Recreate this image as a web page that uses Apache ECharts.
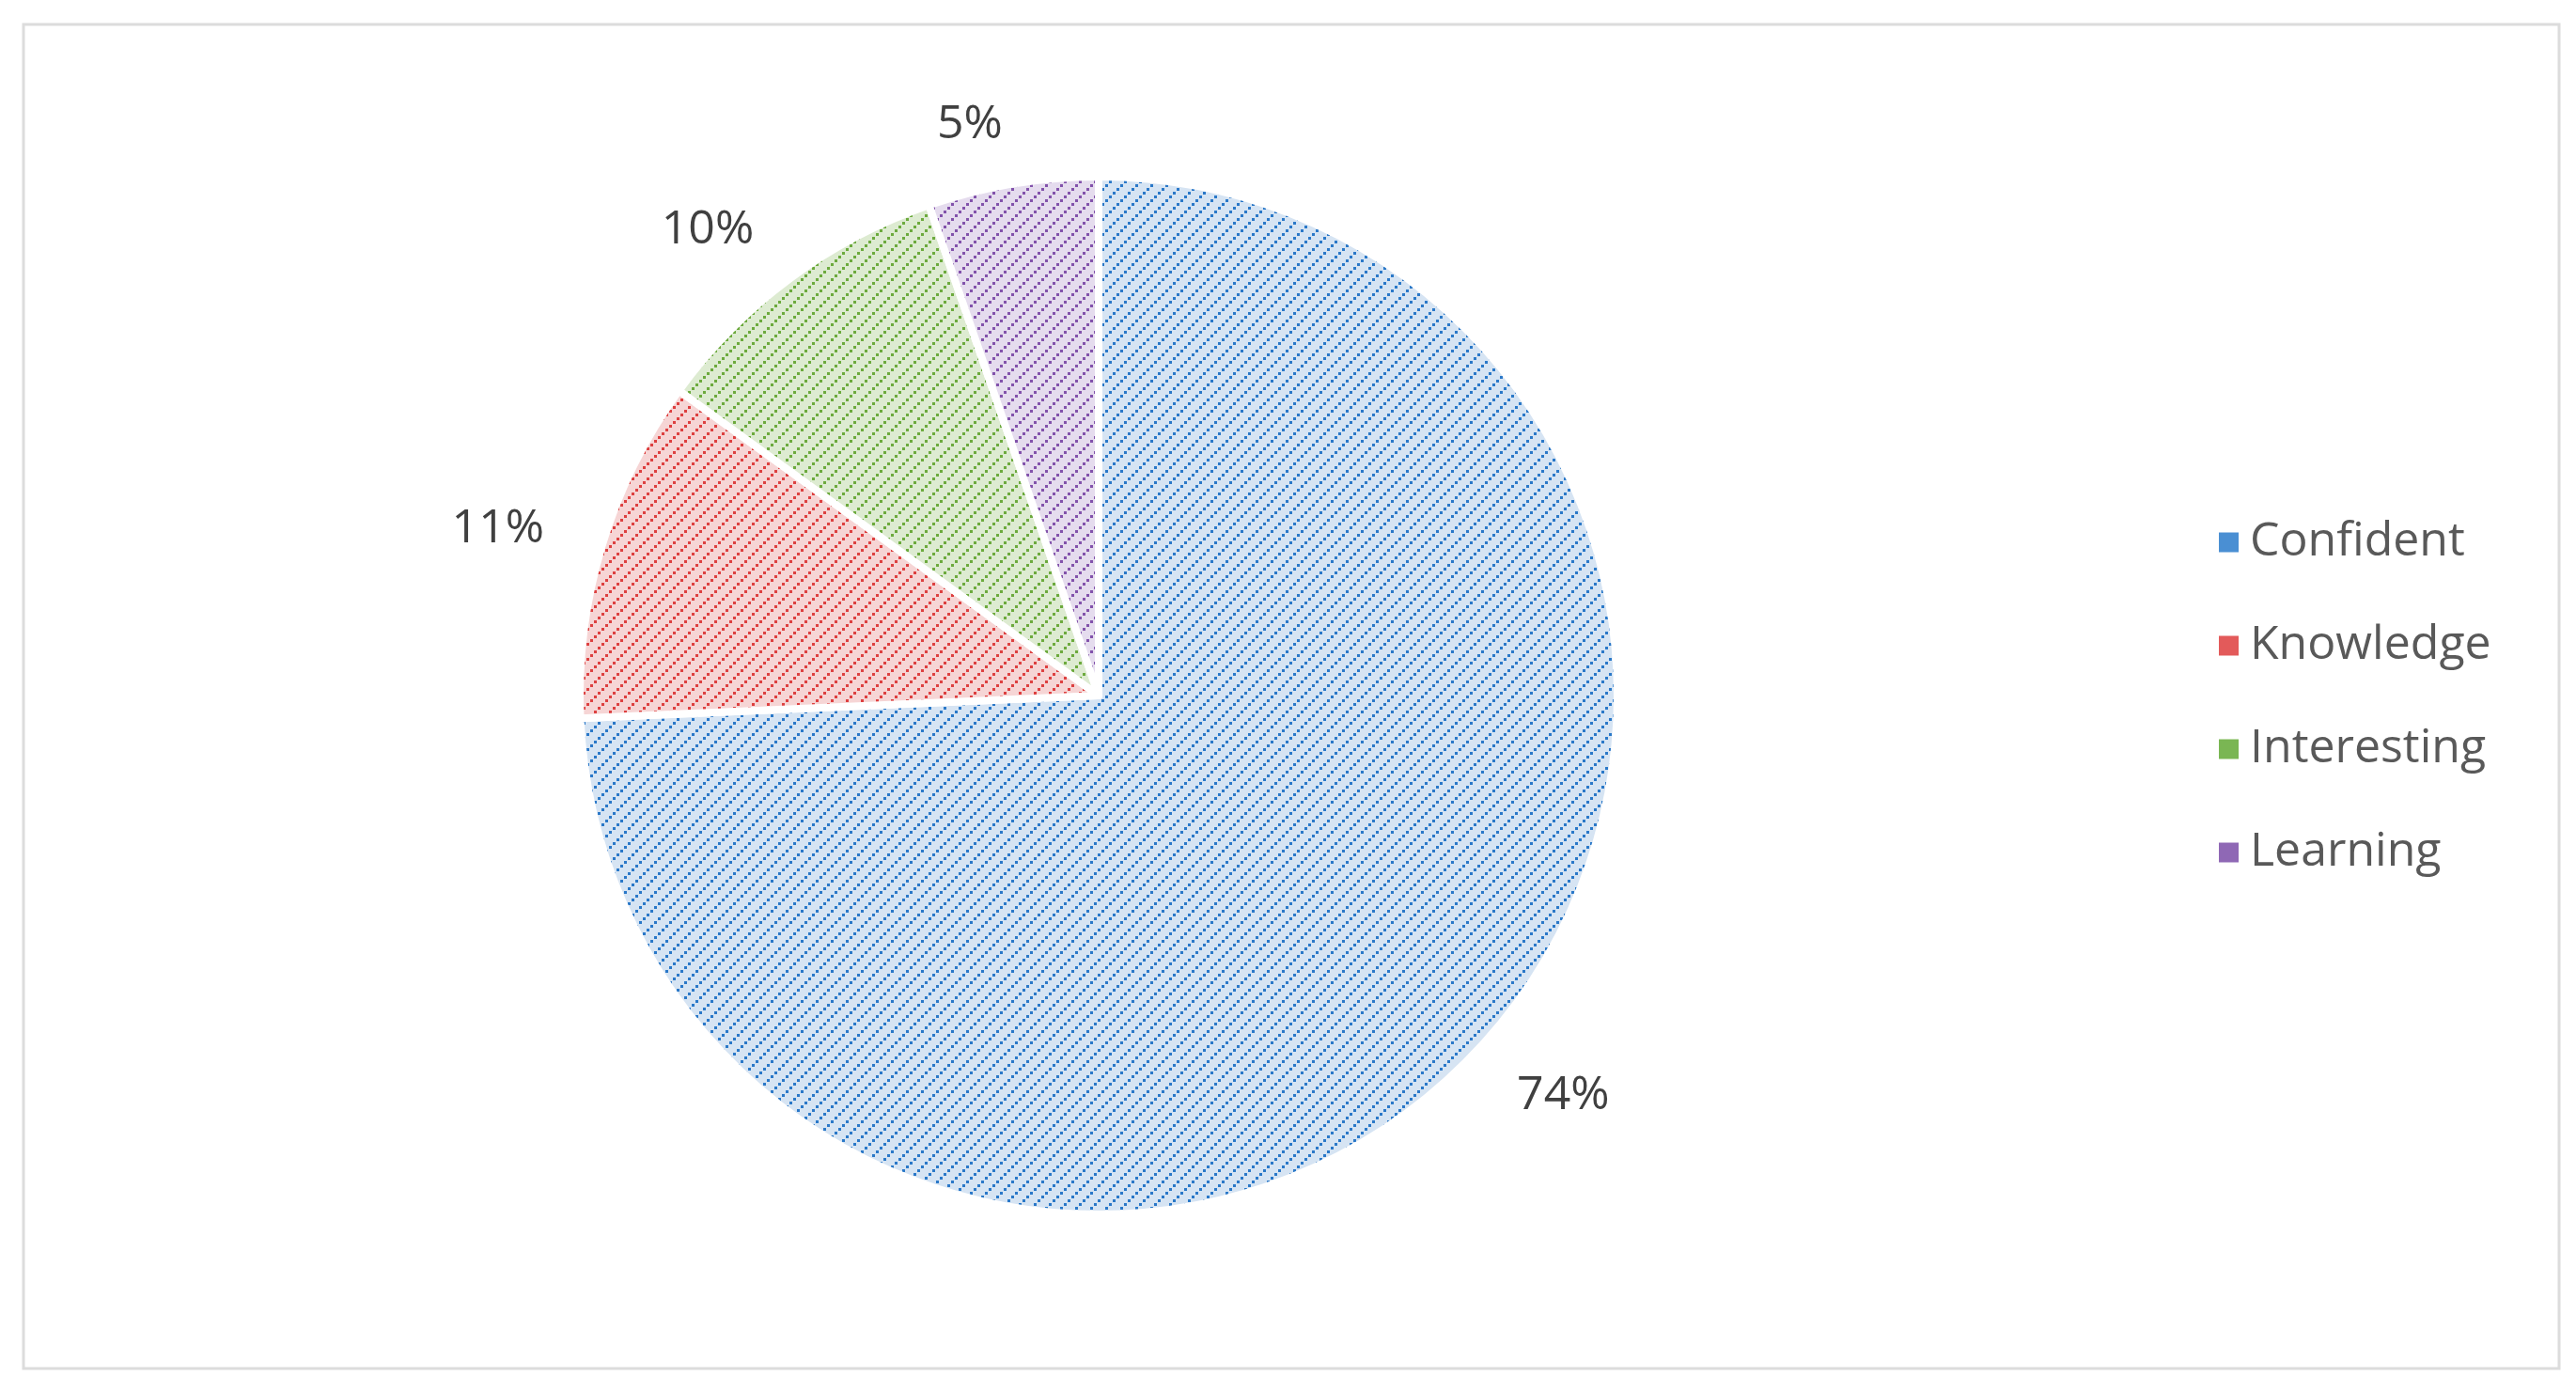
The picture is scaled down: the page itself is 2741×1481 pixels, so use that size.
<!DOCTYPE html>
<html>
<head>
<meta charset="utf-8">
<title>pie</title>
<script src="https://cdn.jsdelivr.net/npm/echarts@6/dist/echarts.min.js"></script>
<style>
html,body{margin:0;padding:0;background:#fff;}
#chart{width:2741px;height:1481px;}
</style>
</head>
<body>
<div id="chart"></div>
<script>
var names = ['Confident','Knowledge','Interesting','Learning'];
var values = [74.3, 10.7, 9.7, 5.3];
var dotColors = ['#2a78c8','#dd4040','#6caa3d','#8252ab'];
var bgColors = ['#d6e4f3','#f6d5d5','#ddebd1','#e5dcee'];
var legendColors = ['#4a8fd3','#e35a5a','#7ab653','#8f68b5'];

// hatch tile: dotted diagonal lines
function hatch(bg, dot){
  var c = document.createElement('canvas');
  c.width = 16; c.height = 16;
  var g = c.getContext('2d');
  g.fillStyle = bg;
  g.fillRect(0,0,16,16);
  g.fillStyle = dot;
  for (var k = 0; k < 4; k++){
    g.fillRect(k*4, 12 - k*4, 3, 3);
  }
  return c;
}

var pieData = [], legendData = [];
for (var i = 0; i < names.length; i++){
  pieData.push({
    name: names[i],
    value: values[i],
    itemStyle: {color: {image: hatch(bgColors[i], dotColors[i]), repeat: 'repeat'}}
  });
  legendData.push({name: names[i], itemStyle: {color: legendColors[i]}});
}

var chart = echarts.init(document.getElementById('chart'));
chart.setOption({
  animation: false,
  graphic: [{
    type: 'rect',
    shape: {x: 25, y: 26, width: 2698, height: 1430},
    style: {fill: 'none', stroke: '#dcdcdc', lineWidth: 3}
  }],
  legend: {
    orient: 'vertical',
    left: 2354,
    top: 542,
    icon: 'rect',
    itemWidth: 23,
    itemHeight: 23,
    itemGap: 50,
    data: legendData,
    textStyle: {
      fontFamily: 'Open Sans',
      fontSize: 50,
      lineHeight: 60,
      color: '#595959',
      padding: [0,0,0,6]
    }
  },
  series: [
    {
      type: 'pie',
      center: [1169, 740],
      radius: [0, 552],
      startAngle: 90,
      clockwise: true,
      percentPrecision: 0,
      data: pieData,
      label: {
        show: true,
        position: 'outside',
        formatter: '{d}%',
        fontFamily: 'Open Sans',
        fontSize: 50,
        color: '#404040',
        distanceToLabelLine: 0
      },
      labelLine: {show: false, length: 64, length2: 0},
      itemStyle: {borderColor: '#ffffff', borderWidth: 8},
      emphasis: {disabled: true}
    }
  ]
});
</script>
</body>
</html>
